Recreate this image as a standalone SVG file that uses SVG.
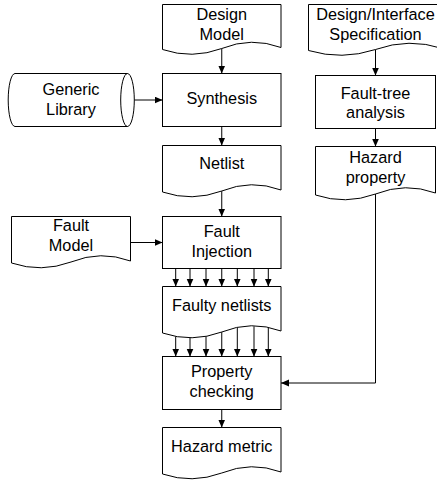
<svg xmlns="http://www.w3.org/2000/svg" width="437" height="485" viewBox="0 0 437 485">
<style>
.shape{fill:#fff;stroke:#000;stroke-width:1}
.lbl{font-family:"Liberation Sans",Arial,sans-serif;font-size:16.3px;fill:#000;text-anchor:middle}
.conn{fill:none;stroke:#000;stroke-width:1}
</style>
<defs>
<marker id="ah" markerWidth="8" markerHeight="8" refX="8" refY="3.5" orient="auto" markerUnits="userSpaceOnUse">
<path d="M0,0 L8,3.5 L0,7 z" fill="#000"/>
</marker>
</defs>
<rect width="437" height="485" fill="#fff"/>
<g id="connectors">
<path class="conn" d="M221.75,48.5 V73.5" marker-end="url(#ah)"/>
<path class="conn" d="M221.75,126.5 V145.5" marker-end="url(#ah)"/>
<path class="conn" d="M221.75,191 V216.5" marker-end="url(#ah)"/>
<path class="conn" d="M134.3,100 H162.5" marker-end="url(#ah)"/>
<path class="conn" d="M130.5,242.5 H162.5" marker-end="url(#ah)"/>
<path class="conn" d="M175.7,268.5 V286.5" marker-end="url(#ah)"/>
<path class="conn" d="M190,268.5 V286.5" marker-end="url(#ah)"/>
<path class="conn" d="M206,268.5 V286.5" marker-end="url(#ah)"/>
<path class="conn" d="M221.75,268.5 V286.5" marker-end="url(#ah)"/>
<path class="conn" d="M237.3,268.5 V286.5" marker-end="url(#ah)"/>
<path class="conn" d="M254,268.5 V286.5" marker-end="url(#ah)"/>
<path class="conn" d="M268.3,268.5 V286.5" marker-end="url(#ah)"/>
<path class="conn" d="M175.7,336.4 V356.5" marker-end="url(#ah)"/>
<path class="conn" d="M190,337.7 V356.5" marker-end="url(#ah)"/>
<path class="conn" d="M206,336.4 V356.5" marker-end="url(#ah)"/>
<path class="conn" d="M221.75,332 V356.5" marker-end="url(#ah)"/>
<path class="conn" d="M237.3,327.6 V356.5" marker-end="url(#ah)"/>
<path class="conn" d="M254,326.4 V356.5" marker-end="url(#ah)"/>
<path class="conn" d="M268.3,327.7 V356.5" marker-end="url(#ah)"/>
<path class="conn" d="M221.75,409.5 V427.5" marker-end="url(#ah)"/>
<path class="conn" d="M375.5,49.5 V75.5" marker-end="url(#ah)"/>
<path class="conn" d="M375.5,128.5 V146.5" marker-end="url(#ah)"/>
<path class="conn" d="M375.5,194 V383 H281" marker-end="url(#ah)"/>
</g>
<g id="design-model">
<path class="shape" d="M162.5,4.5 H281 V47.5 q-29.6,-11 -59.25,1 q-29.6,11 -59.25,1 Z"/>
<text class="lbl" x="221.75" y="20">Design</text>
<text class="lbl" x="221.75" y="39.5">Model</text>
</g>
<g id="generic-library">
<path class="shape" d="M15,73.5 H127.5 A6.8,26.5 0 0 1 127.5,126.5 H15 A6.8,26.5 0 0 1 15,73.5 Z"/>
<path class="conn" d="M127.5,73.5 A6.8,26.5 0 0 0 127.5,126.5"/>
<text class="lbl" x="71" y="95">Generic</text>
<text class="lbl" x="71" y="115">Library</text>
</g>
<g id="synthesis">
<rect class="shape" x="162.5" y="73.5" width="118.5" height="53"/>
<text class="lbl" x="221.75" y="104">Synthesis</text>
</g>
<g id="netlist">
<path class="shape" d="M162.5,145.5 H281 V190 q-29.6,-11 -59.25,1 q-29.6,11 -59.25,1 Z"/>
<text class="lbl" x="221.75" y="168.5">Netlist</text>
</g>
<g id="fault-model">
<path class="shape" d="M11.5,216.5 H130.5 V261 q-29.75,-11 -59.5,1 q-29.75,11 -59.5,1 Z"/>
<text class="lbl" x="71" y="231">Fault</text>
<text class="lbl" x="71" y="250.7">Model</text>
</g>
<g id="fault-injection">
<rect class="shape" x="162.5" y="216.5" width="118.5" height="52"/>
<text class="lbl" x="221.75" y="236.7">Fault</text>
<text class="lbl" x="221.75" y="257">Injection</text>
</g>
<g id="faulty-netlists">
<path class="shape" d="M162.5,286.5 H281 V331 q-29.6,-11 -59.25,1 q-29.6,11 -59.25,1 Z"/>
<text class="lbl" x="221.75" y="310.7">Faulty netlists</text>
</g>
<g id="property-checking">
<rect class="shape" x="162.5" y="356.5" width="118.5" height="53"/>
<text class="lbl" x="221.75" y="377.4">Property</text>
<text class="lbl" x="221.75" y="397">checking</text>
</g>
<g id="hazard-metric">
<path class="shape" d="M162.5,427.5 H281 V472 q-29.6,-11 -59.25,1 q-29.6,11 -59.25,1 Z"/>
<text class="lbl" x="221.75" y="452.4">Hazard metric</text>
</g>
<g id="design-interface-spec">
<path class="shape" d="M308.5,4.5 H442.5 V48.5 q-33.5,-11 -67,1 q-33.5,11 -67,1 Z"/>
<text class="lbl" x="375.5" y="20">Design/Interface</text>
<text class="lbl" x="375.5" y="40">Specification</text>
</g>
<g id="fault-tree-analysis">
<rect class="shape" x="315.5" y="75.5" width="120" height="53"/>
<text class="lbl" x="375.5" y="99">Fault-tree</text>
<text class="lbl" x="375.5" y="118">analysis</text>
</g>
<g id="hazard-property">
<path class="shape" d="M315.5,146.5 H435.5 V193 q-30,-11 -60,1 q-30,11 -60,1 Z"/>
<text class="lbl" x="375.5" y="163.4">Hazard</text>
<text class="lbl" x="375.5" y="182.7">property</text>
</g>
</svg>
